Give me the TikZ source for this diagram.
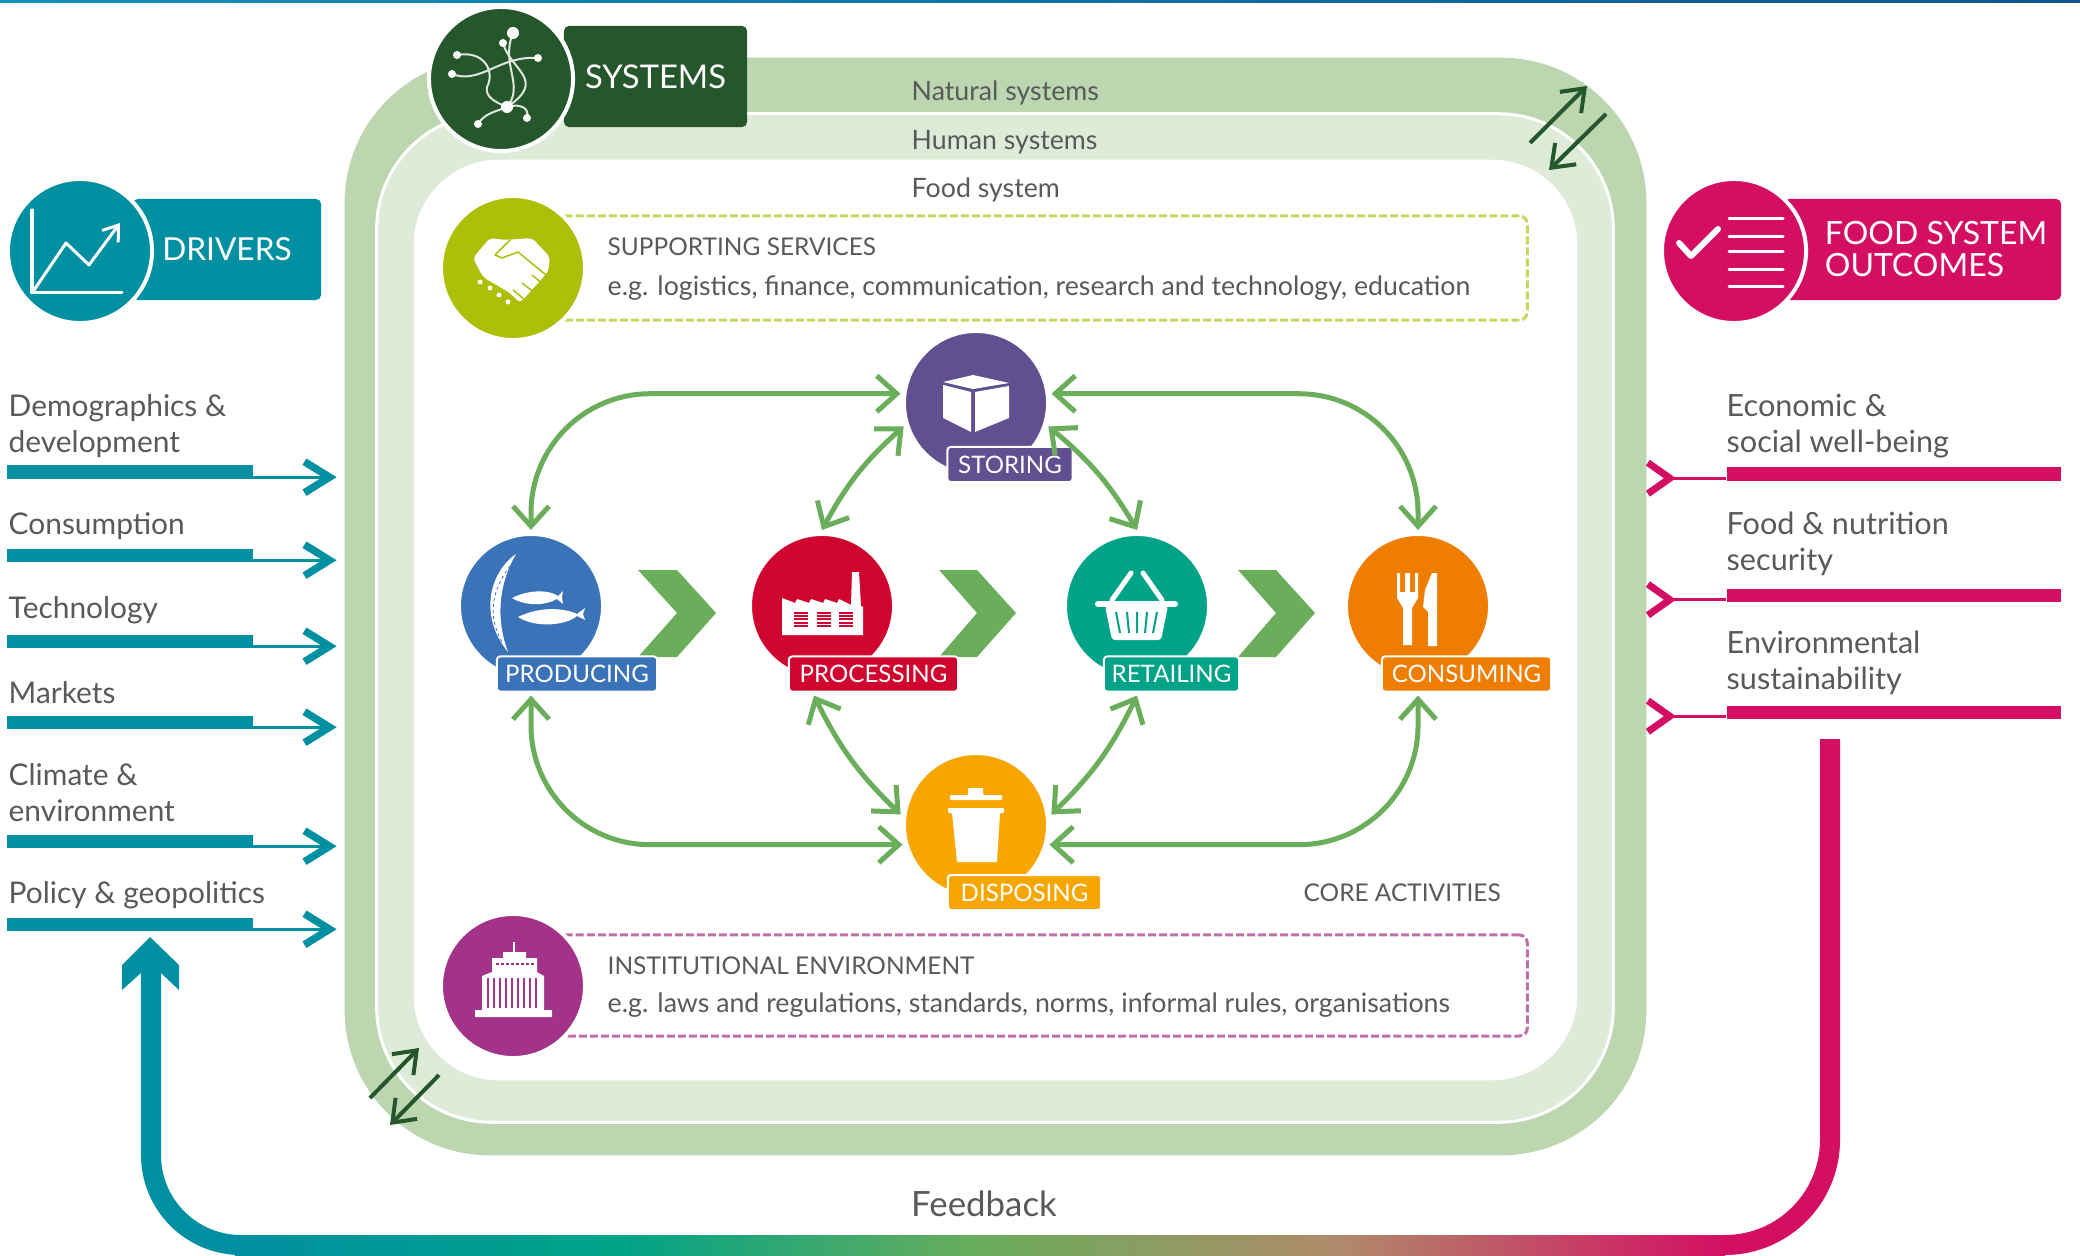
\documentclass[tikz,border=0pt]{standalone}
\usepackage{fontspec}
\setmainfont{Lato}
\usetikzlibrary{arrows.meta}
\definecolor{naturalgreen}{HTML}{BCD6B0}
\definecolor{humangreen}{HTML}{DDEBD8}
\definecolor{darkgreen}{HTML}{26572C}
\definecolor{flowgreen}{HTML}{6AAD5B}
\definecolor{driverteal}{HTML}{0090A2}
\definecolor{outcomepink}{HTML}{D40F63}
\definecolor{supportlime}{HTML}{AEBF0A}
\definecolor{institutepurple}{HTML}{A23388}
\definecolor{prodblue}{HTML}{3B73B9}
\definecolor{procred}{HTML}{D0052F}
\definecolor{retailgreen}{HTML}{00A387}
\definecolor{consumeorange}{HTML}{EF7D00}
\definecolor{disposeyellow}{HTML}{F7A600}
\definecolor{storepurple}{HTML}{60508F}
\definecolor{textgrey}{HTML}{58595B}
\definecolor{rulelight}{HTML}{1090BB}
\definecolor{ruledark}{HTML}{11558B}
\definecolor{feedbacktan}{HTML}{B08A6A}
% only the middle of a shading (25bp to 75bp) shows on a path
\pgfdeclarehorizontalshading{feedbackbar}{100bp}{color(0bp)=(driverteal); color(25bp)=(driverteal); color(38bp)=(retailgreen); color(50bp)=(flowgreen); color(62bp)=(feedbacktan); color(75bp)=(outcomepink); color(100bp)=(outcomepink)}
\tikzset{
  badge/.style={circle, minimum size=1.44cm, inner sep=0pt, draw=white, line width=.04cm, outer sep=.04cm},
  headbox/.style={rectangle, rounded corners=.05cm, inner sep=0pt, text=white},
  tag/.style={rectangle, rounded corners=.03cm, minimum height=.35cm, inner sep=0pt, draw=white, line width=.02cm, outer sep=.04cm, text=white, font=\fontsize{6.85}{8}\selectfont},
  listlabel/.style={anchor=west, align=left, inner sep=0pt, text=textgrey, font=\fontsize{8.5}{10.2}\selectfont},
  widelabel/.style={listlabel, font=\fontsize{8.7}{10.2}\selectfont},
  ringlabel/.style={anchor=west, inner sep=0pt, text=textgrey, font=\fontsize{7.6}{9}\selectfont},
  capslabel/.style={anchor=west, inner sep=0pt, text=textgrey, font=\fontsize{6.95}{8}\selectfont},
  bar/.style={rectangle, minimum height=.13cm, inner sep=0pt},
  driverflow/.style={draw=driverteal, line width=.03cm, -{Straight Barb[length=.25cm,width=.31cm,line width=.075cm]}},
  outcomeflow/.style={draw=outcomepink, line width=.03cm, -{Straight Barb[reversed,length=.22cm,width=.31cm,line width=.07cm]}},
  flow/.style={draw=flowgreen, line width=.05cm, rounded corners=1.19cm, {Straight Barb[length=.2cm,width=.36cm]}-{Straight Barb[length=.2cm,width=.36cm]}},
  swap/.style={draw=darkgreen, line width=.04cm, -{Straight Barb[length=.2cm,width=.3cm]}},
  chevron/.style={fill=flowgreen},
  iconline/.style={draw=white, line width=.03cm, line cap=round, line join=round}
}
\begin{document}
\begin{tikzpicture}[x=0.01cm,y=-0.01cm]
\useasboundingbox (0,0) rectangle (2080,1255);
\shade [left color=rulelight, right color=ruledark] (0,0) rectangle (2080,3); % top rule

% nested systems
\node (natural) [rectangle, fill=naturalgreen, rounded corners=1.45cm, minimum width=13.01cm, minimum height=10.97cm, outer sep=.08cm] at (995.5,606.5) {};
\node (human) [rectangle, fill=humangreen, draw=white, line width=.03cm, rounded corners=1.15cm, minimum width=12.36cm, minimum height=10.08cm] at (995,618) {};
\node (food) [rectangle, fill=white, rounded corners=.85cm, minimum width=11.63cm, minimum height=9.2cm] at (995.5,620) {};

\node (naturaltext) [ringlabel] at (911,93) {Natural systems};
\node (humantext) [ringlabel] at (911,142) {Human systems};
\node (foodtext) [ringlabel] at (911,190) {Food system};

\coordinate (nhstart) at (1530,143);
\coordinate (nhend) at (1587,86);
\coordinate (hnstart) at (1606,114);
\coordinate (hnend) at (1549,170);
\draw [swap] (nhstart) -- (nhend);
\draw [swap] (hnstart) -- (hnend);
\coordinate (fhstart) at (370,1098);
\coordinate (fhend) at (419,1048);
\coordinate (hfstart) at (439,1075);
\coordinate (hfend) at (390,1125);
\draw [swap] (fhstart) -- (fhend);
\draw [swap] (hfstart) -- (hfend);

% systems header
\node (systemsbox) [headbox, fill=darkgreen, minimum width=1.83cm, minimum height=1.01cm, font=\fontsize{9.3}{11}\selectfont] at (655.5,76.5) {\raisebox{-.035cm}{SYSTEMS}};
\node (systems) [badge, fill=darkgreen] at (501,79) {};
\draw [draw=white!85!darkgreen, line width=.02cm]
  (457,55) .. controls (485,50) and (495,72) .. (487,87) .. controls (485,97) and (495,102) .. (507,107)
  (452,74) .. controls (480,85) and (500,55) .. (538,58)
  (513,33) .. controls (500,65) and (525,85) .. (507,107)
  (503,43) .. controls (510,70) and (548,80) .. (507,107)
  (478,124) .. controls (485,113) and (495,112) .. (507,107)
  (527,118) .. controls (530,108) and (520,103) .. (507,107);
\fill [white] (513,33) circle (6) (503,43) circle (4) (457,55) circle (4) (538,58) circle (4) (452,74) circle (4) (507,107) circle (6) (478,124) circle (4) (527,118) circle (4);

% drivers header
\node (driversbox) [headbox, fill=driverteal, minimum width=1.88cm, minimum height=1.01cm, font=\fontsize{9}{11}\selectfont] at (227,249.5) {DRIVERS};
\node (drivers) [badge, fill=driverteal] at (80,251) {};
\draw [iconline] (32,210) -- (32,293) -- (122,293);
\draw [iconline, -{Straight Barb[length=.14cm,width=.2cm]}] (32,293) -- (66,243) -- (89,265) -- (120,223);

% outcomes header
\node (outcomesbox) [headbox, fill=outcomepink, minimum width=2.77cm, minimum height=1.01cm, align=left, font=\fontsize{9.1}{9.1}\selectfont] at (1922.5,249.5) {\hspace{.27cm}FOOD SYSTEM\\\hspace{.27cm}OUTCOMES};
\node (outcomes) [badge, fill=outcomepink] at (1734,251) {};
\draw [iconline, line width=.06cm] (1679,243) -- (1691,256) -- (1718,229);
\draw [iconline] (1729,219) -- (1783,219) (1729,237) -- (1783,237) (1729,252) -- (1783,252) (1729,270) -- (1783,270) (1729,287) -- (1783,287);

% supporting services
\node (supportbox) [rectangle, draw=supportlime!65!white, dashed, dash pattern=on .08cm off .03cm, line width=.03cm, rounded corners=.08cm, minimum width=9.7cm, minimum height=1.04cm] at (1042,268) {};
\node (support) [badge, fill=supportlime] at (513,268) {};
\fill [white, rounded corners=.04cm] (473,258) -- (490,238) -- (505,240) -- (532,238) -- (550,257) -- (548,272) -- (520,303) -- (510,293) -- (483,277) -- cycle;
\draw [draw=supportlime, line width=.015cm, line join=round] (510,240) -- (495,255) -- (502,258) -- (518,252) -- (546,275);
\draw [draw=supportlime, line width=.015cm] (532,275) -- (544,285) (522,283) -- (535,293) (513,290) -- (525,300);
\fill [white] (480,282) circle (2.5) (490,288) circle (2.5) (499,295) circle (2.5) (508,302) circle (2.5);
\node (supporthead) [capslabel] at (607,247) {SUPPORTING SERVICES};
\node (supporttext) [ringlabel] at (607,288) {e.g. logistics, finance, communication, research and technology, education};

% institutional environment
\node (institutebox) [rectangle, draw=institutepurple!70!white, dashed, dash pattern=on .08cm off .03cm, line width=.03cm, rounded corners=.08cm, minimum width=9.7cm, minimum height=1.01cm] at (1042,985.5) {};
\node (institute) [badge, fill=institutepurple] at (513,986) {};
\draw [white, line width=.015cm] (514,942) -- (514,955);
\fill [white] (492,972) -- (492,958) -- (503,958) -- (503,952) -- (526,952) -- (526,958) -- (537,958) -- (537,972) -- (544,976) -- (544,1010) -- (552,1010) -- (552,1017) -- (475,1017) -- (475,1010) -- (482,1010) -- (482,976) -- cycle;
\draw [draw=institutepurple, line width=.015cm] (488,978) -- (488,1008) (494,978) -- (494,1008) (500,978) -- (500,1008) (506,978) -- (506,1008) (512,978) -- (512,1008) (518,978) -- (518,1008) (524,978) -- (524,1008) (530,978) -- (530,1008) (536,978) -- (536,1008);
\draw [draw=institutepurple, line width=.02cm, dash pattern=on .025cm off .025cm] (496,964) -- (534,964);
\node (institutehead) [capslabel] at (607,966) {INSTITUTIONAL ENVIRONMENT};
\node (institutetext) [ringlabel] at (607,1005) {e.g. laws and regulations, standards, norms, informal rules, organisations};

% chain of chevrons
\fill [chevron] (638,570) -- (677,570) -- (716,613) -- (677,657) -- (638,657) -- (677,613) -- cycle;
\fill [chevron] (939,570) -- (977,570) -- (1016,613) -- (977,657) -- (939,657) -- (977,613) -- cycle;
\fill [chevron] (1238,570) -- (1276,570) -- (1315,613) -- (1276,657) -- (1238,657) -- (1276,613) -- cycle;

% core activities
\node (storing) [badge, fill=storepurple] at (976,403) {};
\node (producing) [badge, fill=prodblue] at (531,606) {};
\node (processing) [badge, fill=procred] at (822,606) {};
\node (retailing) [badge, fill=retailgreen] at (1137,606) {};
\node (consuming) [badge, fill=consumeorange] at (1418,606) {};
\node (disposing) [badge, fill=disposeyellow] at (976,825) {};

\node (storetag) [tag, fill=storepurple, minimum width=1.25cm] at (1010,464.5) {STORING};
\node (prodtag) [tag, fill=prodblue, minimum width=1.6cm] at (577,674) {PRODUCING};
\node (proctag) [tag, fill=procred, minimum width=1.69cm] at (873.5,674) {PROCESSING};
\node (retailtag) [tag, fill=retailgreen, minimum width=1.35cm] at (1171.5,674) {RETAILING};
\node (consumetag) [tag, fill=consumeorange, minimum width=1.69cm] at (1466.5,674) {CONSUMING};
\node (disposetag) [tag, fill=disposeyellow, minimum width=1.53cm] at (1024.5,892.5) {DISPOSING};
\node (coretext) [capslabel] at (1303,893) {CORE ACTIVITIES};

\draw [flow] (storing.173) -| (producing.north);
\draw [flow] (storing.7) -| (consuming.north);
\draw [flow] (disposing.195) -| (producing |- prodtag.south);
\draw [flow] (disposing.345) -| (consuming |- consumetag.south);
\draw [flow] (storing.198) to [bend right=10] (processing.north);
\draw [flow] (storing.342) to [bend left=10] (retailing.north);
\draw [flow] ([xshift=-.08cm]processing |- proctag.south) to [bend right=10] (disposing.172);
\draw [flow] (retailing |- retailtag.south) to [bend left=10] (disposing.8);

% core icons
\fill [white] (943,382) -- (973,375) -- (1009,383) -- (973,389) -- cycle;
\fill [white] (943,385) -- (971,392) -- (971,432) -- (943,418) -- cycle;
\fill [white] (975,392) -- (1009,386) -- (1009,418) -- (975,432) -- cycle;

\fill [white] (516,554) .. controls (490,572) and (478,615) .. (508,652) .. controls (496,620) and (498,585) .. (516,554) -- cycle;
\draw [draw=prodblue, line width=.008cm, dash pattern=on .03cm off .03cm] (510,566) .. controls (492,590) and (487,615) .. (502,642);
\fill [white] (512,598) .. controls (530,589) and (550,590) .. (558,596) -- (563,591) -- (562,597) -- (563,604) -- (557,599) .. controls (545,606) and (525,606) .. (512,598) -- cycle;
\fill [white] (518,617) .. controls (540,606) and (565,608) .. (577,614) -- (585,608) -- (583,614) -- (585,620) -- (577,616) .. controls (565,626) and (535,628) .. (518,617) -- cycle;

\fill [white] (782,598) -- (795,603) -- (797,599) -- (809,603) -- (811,599) -- (823,603) -- (825,599) -- (837,603) -- (839,599) -- (851,605) -- (852,572) -- (859,572) -- (861,606) -- (863,607) -- (863,635) -- (782,635) -- cycle;
\draw [draw=procred, line width=.14cm, dash pattern=on .02cm off .012cm] (801,612) -- (801,627) (823.5,612) -- (823.5,627) (846,612) -- (846,627);

\draw [iconline, line width=.05cm] (1112,600) -- (1131,573) (1162,600) -- (1143,573);
\draw [iconline, line width=.06cm] (1098,604) -- (1175,604);
\fill [white, rounded corners=.03cm] (1105,606) -- (1168,606) -- (1161,640) -- (1112,640) -- cycle;
\draw [draw=retailgreen, line width=.02cm] (1116,612) -- (1120,633) (1127,612) -- (1129,633) (1137,612) -- (1137,633) (1147,612) -- (1145,633) (1157,612) -- (1153,633);

\fill [white] (1397,573) -- (1400,573) -- (1400,592) -- (1405,592) -- (1405,573) -- (1410,573) -- (1410,592) -- (1415,592) -- (1415,573) -- (1418,573) -- (1418,598) -- (1412,608) -- (1412,645) -- (1403,645) -- (1403,608) -- (1397,598) -- cycle;
\fill [white] (1437,573) -- (1437,646) -- (1428,646) -- (1428,612) -- (1423,607) -- (1425,590) -- (1432,573) -- cycle;

\fill [white, rounded corners=.01cm] (968,795) -- (968,788) -- (983,788) -- (983,795) -- (1002,795) -- (1002,800) -- (950,800) -- (950,795) -- cycle;
\fill [white, rounded corners=.01cm] (948,808) -- (1004,808) -- (1004,813) -- (1000,813) -- (997,862) -- (957,862) -- (952,813) -- (948,813) -- cycle;

% driver rows
\node (demotext) [listlabel] at (8,426) {Demographics \&\\development};
\node (demobar) [bar, fill=driverteal, minimum width=2.45cm] at (130,472) {};
\draw [driverflow] ([yshift=.02cm]demobar.south east) -- ([yshift=.02cm]demobar.south east -| natural.west);
\node (constext) [listlabel] at (8,526) {Consumption};
\node (consbar) [bar, fill=driverteal, minimum width=2.45cm] at (130,555) {};
\draw [driverflow] ([yshift=.02cm]consbar.south east) -- ([yshift=.02cm]consbar.south east -| natural.west);
\node (techtext) [listlabel] at (8,610) {Technology};
\node (techbar) [bar, fill=driverteal, minimum width=2.45cm] at (130,641) {};
\draw [driverflow] ([yshift=.02cm]techbar.south east) -- ([yshift=.02cm]techbar.south east -| natural.west);
\node (markettext) [listlabel] at (8,693) {Markets};
\node (marketbar) [bar, fill=driverteal, minimum width=2.45cm] at (130,722) {};
\draw [driverflow] ([yshift=.02cm]marketbar.south east) -- ([yshift=.02cm]marketbar.south east -| natural.west);
\node (climatetext) [listlabel] at (8,793) {Climate \&\\environment};
\node (climatebar) [bar, fill=driverteal, minimum width=2.45cm] at (130,841) {};
\draw [driverflow] ([yshift=.02cm]climatebar.south east) -- ([yshift=.02cm]climatebar.south east -| natural.west);
\node (policytext) [listlabel] at (8,895) {Policy \& geopolitics};
\node (policybar) [bar, fill=driverteal, minimum width=2.45cm] at (130,924) {};
\draw [driverflow] ([yshift=.02cm]policybar.south east) -- ([yshift=.02cm]policybar.south east -| natural.west);

% outcome rows
\node (econtext) [widelabel] at (1726,426) {Economic \&\\social well-being};
\node (econbar) [bar, fill=outcomepink, minimum width=3.34cm] at (1894,474) {};
\draw [outcomeflow] ([yshift=.03cm]econbar.south west) -- ([yshift=.03cm,xshift=-.1cm]econbar.south west -| natural.east);
\node (nutritext) [widelabel] at (1726,544) {Food \& nutrition\\security};
\node (nutribar) [bar, fill=outcomepink, minimum width=3.34cm] at (1894,595.5) {};
\draw [outcomeflow] ([yshift=.03cm]nutribar.south west) -- ([yshift=.03cm,xshift=-.1cm]nutribar.south west -| natural.east);
\node (envtext) [widelabel] at (1726,663) {Environmental\\sustainability};
\node (envbar) [bar, fill=outcomepink, minimum width=3.34cm] at (1894,712) {};
\draw [outcomeflow] ([yshift=.03cm]envbar.south west) -- ([yshift=.03cm,xshift=-.1cm]envbar.south west -| natural.east);

% feedback loop
\coordinate (fbtop) at (1830,739);
\coordinate (fbright) at (1720,1245);
\coordinate (fbleft) at (240,1245);
\coordinate (fbhead) at (151,970);
\draw [draw=outcomepink, line width=.2cm, rounded corners=1.05cm] (fbtop) |- (fbright);
\draw [draw=driverteal, line width=.2cm, rounded corners=.9cm] (fbhead) |- (fbleft);
\path [shading=feedbackbar] (235,1235) rectangle (1725,1255);
\fill [driverteal] (150,937) -- (179,965) -- (179,990) -- (161,973) -- (141,973) -- (122,990) -- (122,965) -- cycle;
\node (feedbacktext) [anchor=center, inner sep=0pt, text=textgrey, font=\fontsize{9.9}{12}\selectfont] at (984,1204) {Feedback};
\end{tikzpicture}
\end{document}
